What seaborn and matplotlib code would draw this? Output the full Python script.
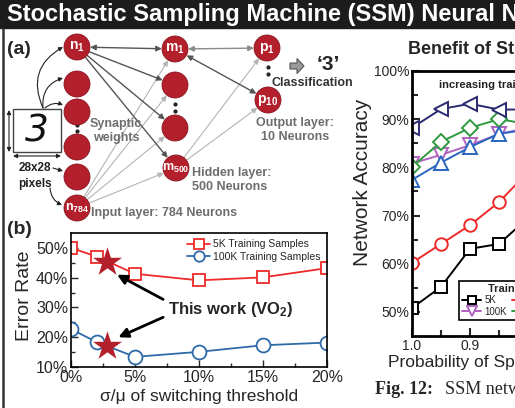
import numpy as np
import seaborn as sns
import matplotlib.pyplot as plt
from matplotlib.patches import Circle, Rectangle, FancyArrow

# panel (b): error rate vs sigma/mu of switching threshold
sigma_pct = [0, 2, 5, 10, 15, 20]
err_5k = [50.0, 47.1, 41.3, 39.1, 40.1, 43.2]
err_100k = [22.7, 18.4, 13.4, 15.1, 17.3, 18.2]
this_work_x = [2.8, 2.8]
this_work_y = [45.1, 17.1]

# right panel: network accuracy vs probability of spiking
prob = [1.0, 0.95, 0.9, 0.85, 0.8]
acc_5k = [50.8, 55.2, 63.1, 64.1, 69.5]
acc_10k = [60.2, 64.1, 68.0, 72.8, 79.0]
acc_20k = [77.4, 81.0, 84.2, 87.0, 87.8]
acc_100k = [80.8, 82.6, 84.6, 86.9, 88.2]
acc_200k = [80.1, 85.3, 88.2, 90.0, 89.0]
acc_500k = [88.2, 92.1, 93.2, 92.0, 92.0]

RED = '#ee2a2a'
BLUE = '#2f6aa8'
DARKRED = '#b3202c'
GREY_TXT = '#6e6e6e'

sns.set_style('ticks')
plt.rcParams['font.family'] = ['Liberation Sans', 'DejaVu Sans']
plt.rcParams['mathtext.fontset'] = 'custom'
plt.rcParams['mathtext.rm'] = 'Liberation Sans'
plt.rcParams['mathtext.bf'] = 'Liberation Sans:bold'
plt.rcParams['mathtext.it'] = 'Liberation Sans:italic'

fig = plt.figure(figsize=(5.15, 4.08), dpi=100)

# overlay in pixel coordinates for the diagram and decorations
ov = fig.add_axes([0, 0, 1, 1])
ov.set_xlim(0, 515)
ov.set_ylim(408, 0)
ov.axis('off')

ov.add_patch(Rectangle((0, 0), 515, 28, color='#1c1c1c'))
ov.text(7, 14, 'Stochastic Sampling Machine (SSM) Neural Network', color='white',
        fontsize=17, fontweight='bold', va='center', ha='left')
ov.plot([2.5, 2.5], [29, 408], color='#333333', lw=1.8)

ov.text(7, 49, '(a)', fontsize=14, fontweight='bold', va='center')
ov.text(7, 230, '(b)', fontsize=14, fontweight='bold', va='center')

# --- network diagram ---
R = 13
inputs = [(77, 47, 'n', '1'), (77, 84, None, None), (77, 112, None, None),
          (77, 147, None, None), (77, 177, None, None), (77, 208, 'n', '784')]
hidden = [(175, 49, 'm', '1'), (175, 85, None, None), (175, 128, None, None),
          (176, 168, 'm', '500')]
outputs = [(267, 48, 'p', '1'), (268, 100, 'p', '10')]


def link(a, b, style, color, lw):
    ov.annotate('', xy=(b[0], b[1]), xytext=(a[0], a[1]),
                arrowprops=dict(arrowstyle=style, color=color, lw=lw,
                                shrinkA=9.5, shrinkB=9.5, mutation_scale=8))


n1, n784 = inputs[0], inputs[-1]
for h in hidden:
    link(n784, h, '-|>', '#b4b4b4', 0.8)
for p in outputs:
    link(hidden[-1], p, '-|>', '#b4b4b4', 0.8)
link(n1, hidden[0], '<|-|>', '#555555', 1.0)
for h in hidden[1:]:
    link(n1, h, '-|>', '#555555', 1.0)
link(hidden[0], outputs[0], '<|-|>', '#8a8a8a', 1.0)
link(hidden[0], outputs[1], '<|-|>', '#555555', 1.0)

for x, y, s, sub in inputs + hidden + outputs:
    ov.add_patch(Circle((x, y), R, fc=DARKRED, ec='#8a1520', lw=0.6, zorder=3))
    if s:
        fs = 10 if len(sub) < 3 else 9
        ov.text(x, y, r'$\mathbf{%s}_{\mathbf{%s}}$' % (s, sub), color='white',
                fontsize=fs, ha='center', va='center', zorder=4)

for x, ys in [(77, (125, 131)), (175, (104, 111)), (268, (67, 74))]:
    ov.plot([x, x], ys, 'o', color='#222222', ms=2)

# digit box
ov.add_patch(Rectangle((13, 109), 48, 43, fc='white', ec='#444444', lw=1))
ov.text(37, 131, '3', fontsize=27, fontstyle='italic', family='DejaVu Sans',
        fontweight='light', ha='center', va='center', color='#111111')
ov.annotate('', xy=(9, 110), xytext=(9, 152),
            arrowprops=dict(arrowstyle='<|-|>', color='#222', lw=0.8, mutation_scale=6,
                            shrinkA=0, shrinkB=0))
ov.annotate('', xy=(13, 156), xytext=(61, 156),
            arrowprops=dict(arrowstyle='<|-|>', color='#222', lw=0.8, mutation_scale=6,
                            shrinkA=0, shrinkB=0))
ov.text(35, 168, '28x28', fontsize=8.5, fontweight='bold', ha='center', va='center', color='#222')
ov.text(35, 184, 'pixels', fontsize=8.5, fontweight='bold', ha='center', va='center', color='#222')

for start, end, rad in [((43, 108), (63, 47), -0.45), ((43, 108), (63, 78), -0.4),
                        ((45, 108), (63, 105), -0.3), ((53, 168), (63, 171), 0.0),
                        ((50, 188), (62, 205), 0.3)]:
    ov.annotate('', xy=end, xytext=start,
                arrowprops=dict(arrowstyle='-|>', color='#222', lw=0.8, mutation_scale=6,
                                shrinkA=0, shrinkB=0,
                                connectionstyle='arc3,rad=%s' % rad))

ov.text(116, 131, 'Synaptic\nweights', fontsize=9, fontweight='bold', color=GREY_TXT,
        ha='center', va='center', linespacing=1.15)
ov.text(91, 213, 'Input layer: 784 Neurons', fontsize=9, fontweight='bold',
        color=GREY_TXT, ha='left', va='center')
ov.text(192, 180, 'Hidden layer:\n500 Neurons', fontsize=9, fontweight='bold',
        color=GREY_TXT, ha='left', va='center', linespacing=1.15)
ov.text(295, 130, 'Output layer:\n10 Neurons', fontsize=9, fontweight='bold',
        color=GREY_TXT, ha='center', va='center', linespacing=1.15)
ov.add_patch(FancyArrow(290, 66, 7, 0, width=6, head_width=15, head_length=7,
                        length_includes_head=False, fc='#9a9a9a', ec='#555555', lw=0.8))
ov.text(328, 65, '\u20183\u2019', fontsize=15, fontweight='bold', ha='center', va='center')
ov.text(272, 83, 'Classification', fontsize=9, fontweight='bold', color='#333333',
        ha='left', va='center')

# --- panel (b) ---
ax_b = fig.add_axes([71 / 515, 1 - 367 / 408, 256 / 515, 134 / 408])
sns.lineplot(x=sigma_pct, y=err_5k, ax=ax_b, color=RED, marker='s', markersize=9,
             markerfacecolor='white', markeredgecolor=RED, markeredgewidth=1.3,
             linewidth=1.3, label='5K Training Samples')
sns.lineplot(x=sigma_pct, y=err_100k, ax=ax_b, color=BLUE, marker='o', markersize=10,
             markerfacecolor='white', markeredgecolor=BLUE, markeredgewidth=1.3,
             linewidth=1.3, label='100K Training Samples')
sns.scatterplot(x=this_work_x, y=this_work_y, ax=ax_b, marker='*', s=480,
                color=DARKRED, linewidth=0, zorder=5)
ax_b.set_xlim(0, 20)
ax_b.set_ylim(10, 55)
ax_b.set_xticks([0, 5, 10, 15, 20])
ax_b.set_xticklabels(['0%', '5%', '10%', '15%', '20%'])
ax_b.set_xticks([2.5, 7.5, 12.5, 17.5], minor=True)
ax_b.set_yticks([10, 20, 30, 40, 50])
ax_b.set_yticklabels(['10%', '20%', '30%', '40%', '50%'])
ax_b.set_yticks([15, 25, 35, 45], minor=True)
ax_b.tick_params(which='both', direction='in', labelsize=11.5, width=1, pad=2)
ax_b.tick_params(which='major', length=5)
ax_b.tick_params(which='minor', length=3)
for sp in ax_b.spines.values():
    sp.set_visible(True)
    sp.set_color('black')
    sp.set_linewidth(1.2)
ax_b.legend(loc='upper right', frameon=False, fontsize=7.5, handlelength=2.2,
            borderaxespad=0.2, labelspacing=0.25, handletextpad=0.3, markerscale=0.75)
ax_b.annotate('', xy=(3.6, 41), xytext=(7.2, 32.7),
              arrowprops=dict(arrowstyle='-|>', color='black', lw=2, mutation_scale=14,
                              shrinkA=0, shrinkB=0))
ax_b.annotate('', xy=(3.7, 20), xytext=(7.2, 26.7),
              arrowprops=dict(arrowstyle='-|>', color='black', lw=2, mutation_scale=14,
                              shrinkA=0, shrinkB=0))
ax_b.text(7.6, 29.3, r'This work (VO$_\mathbf{2}$)', fontsize=12, fontweight='bold',
          va='center', ha='left')
ax_b.set_ylabel('Error Rate', fontsize=14)
ax_b.yaxis.set_label_coords(25, 296, transform=ov.transData)
ax_b.yaxis.label.set_va('center')
ax_b.set_xlabel('\u03c3/\u03bc of switching threshold', fontsize=12.5)
ax_b.xaxis.set_label_coords(199, 397, transform=ov.transData)
ax_b.xaxis.label.set_va('center')

# --- right panel ---
ax_r = fig.add_axes([412 / 515, 1 - 336 / 408, 232 / 515, 265 / 408])
series = [
    (acc_5k, '5K', 'black', 's', 8),
    (acc_100k, '100K', '#b062c0', 'v', 10),
    (acc_10k, '10K', RED, 'o', 9),
    (acc_200k, '200K', '#2e9a3e', 'D', 8),
    (acc_20k, '20K', '#2a66c0', '^', 10),
    (acc_500k, '500K', '#2a2a72', '<', 10),
]
for vals, lab, col, mk, ms in series:
    sns.lineplot(x=prob, y=vals, ax=ax_r, color=col, marker=mk, markersize=ms,
                 markerfacecolor='white', markeredgecolor=col, markeredgewidth=1.4,
                 linewidth=1.4, label=lab)
ax_r.set_xlim(1.0, 0.6)
ax_r.set_ylim(45, 100)
ax_r.set_xticks([1.0, 0.9, 0.8, 0.7, 0.6])
ax_r.set_xticklabels(['1.0', '0.9', '0.8', '0.7', '0.6'])
ax_r.set_xticks([0.95, 0.85, 0.75, 0.65], minor=True)
ax_r.set_yticks([50, 60, 70, 80, 90, 100])
ax_r.set_yticklabels(['50%', '60%', '70%', '80%', '90%', '100%'])
ax_r.set_yticks([55, 65, 75, 85, 95], minor=True)
ax_r.tick_params(which='both', direction='in', labelsize=10, width=1.5, pad=2)
ax_r.tick_params(which='major', length=6)
ax_r.tick_params(which='minor', length=4)
for sp in ax_r.spines.values():
    sp.set_visible(True)
    sp.set_color('black')
    sp.set_linewidth(2)
leg = ax_r.legend(loc='upper left', bbox_to_anchor=(454 / 515, 1 - 276 / 408),
                  bbox_transform=fig.transFigure, ncol=3, fontsize=7,
                  title='Training Samples', title_fontproperties={'weight': 'bold', 'size': 8},
                  handlelength=2.0, handletextpad=0.3, columnspacing=0.5,
                  labelspacing=0.15, borderpad=0.3, markerscale=0.7, fancybox=False,
                  edgecolor='black', framealpha=1)
leg.get_frame().set_linewidth(1.2)
ax_r.text(0.954, 97, 'increasing training samples', fontsize=8, fontweight='bold',
          ha='left', va='center', color='#222222')
ax_r.set_ylabel('Network Accuracy', fontsize=15)
ax_r.yaxis.set_label_coords(363, 182, transform=ov.transData)
ax_r.yaxis.label.set_va('center')
ax_r.set_xlabel('Probability of Spiking', fontsize=12.5)
ax_r.xaxis.set_label_coords(388, 363, transform=ov.transData)
ax_r.xaxis.label.set_va('center')
ax_r.xaxis.label.set_ha('left')

ov.text(408, 50, 'Benefit of Stochastic Sampling', fontsize=13, fontweight='bold',
        ha='left', va='center')
ov.text(375, 390, 'Fig. 12:', fontsize=13, fontweight='bold', family='Liberation Serif',
        ha='left', va='center')
ov.text(445, 390, 'SSM network accuracy as a', fontsize=13, family='Liberation Serif',
        ha='left', va='center')

fig.savefig('out.png', dpi=100)
